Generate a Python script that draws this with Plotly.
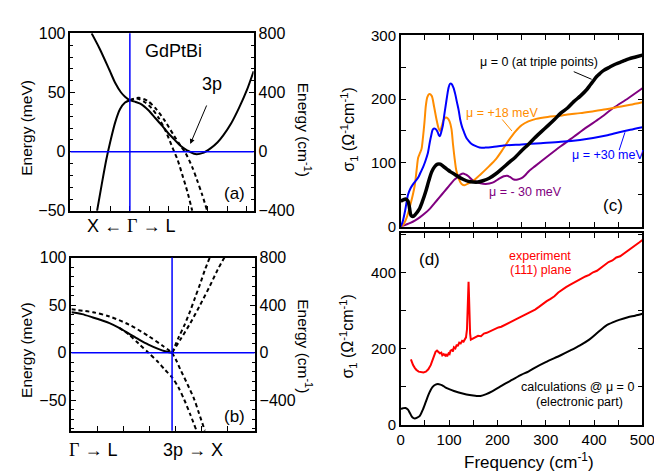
import plotly.graph_objects as go

W, H = 662, 474

# ---------------- Panel (a): band structure X <- Gamma -> L ----------------
a_solid1_k = [-0.309, -0.244, -0.165, -0.118, -0.071, -0.039, 0.0, 0.047, 0.094, 0.150, 0.205,
              0.260, 0.307, 0.362, 0.409, 0.465, 0.528, 0.591, 0.654, 0.709, 0.756, 0.819,
              0.882, 0.945, 1.0]
a_solid1_E = [100, 87, 69, 58, 50, 46.5, 43.5, 42, 40, 35, 28.5, 22, 16, 10, 5, 1, -2, -1, 3, 8,
              14, 24, 37, 52, 68]
a_solid2_k = [-0.265, -0.228, -0.191, -0.157, -0.118, -0.079, -0.039, 0.0]
a_solid2_E = [-50, -28, -7, 9, 25, 36, 41.5, 43.5]
a_dash1_k = [0.0, 0.055, 0.118, 0.173, 0.236, 0.291, 0.346, 0.386, 0.425, 0.465, 0.504]
a_dash1_E = [43.5, 45, 42, 37, 28, 17, 3, -7, -20, -34, -50]
a_dash2_k = [0.0, 0.071, 0.142, 0.213, 0.283, 0.354, 0.409, 0.449, 0.504, 0.543, 0.583, 0.622]
a_dash2_E = [43.5, 45.5, 43, 36, 26, 14, 5, -1, -13, -24, -36, -49]
a_gamma_k = 0.0

# ---------------- Panel (b): band structure Gamma -> L, 3p -> X ----------------
b_solid_k = [0.0, 0.106, 0.213, 0.300, 0.378, 0.474, 0.571, 0.668, 0.765, 0.862, 0.929, 1.0]
b_solid_E = [42.5, 40.5, 37, 34, 31, 26, 20, 14, 8.5, 4, 1.5, 0]
b_dash_up_k = [0.0, 0.213, 0.378, 0.571, 0.765, 0.910, 1.0]
b_dash_up_E = [45.5, 42.5, 38, 29.5, 17.5, 7, 0]
b_dash_low_k = [0.474, 0.571, 0.668, 0.765, 0.862, 0.929, 1.0, 1.065, 1.123, 1.181, 1.239]
b_dash_low_E = [26, 19, 9.5, 0, -10, -18, -26, -37, -50, -65, -81]
b_dash_down_k = [1.0, 1.046, 1.084, 1.152, 1.220, 1.268, 1.326]
b_dash_down_E = [0, -9, -18, -33, -49, -64, -82]
b_dash_steep_k = [1.0, 1.065, 1.123, 1.181, 1.229, 1.278, 1.326, 1.375]
b_dash_steep_E = [0, 16, 29, 44, 58, 72, 87, 100]
b_dash_flat_k = [1.0, 1.084, 1.181, 1.278, 1.375, 1.452, 1.520]
b_dash_flat_E = [0, 14, 31, 50, 70, 87, 100]
b_3p_k = 1.0
fermi_E = 0.0

# ---------------- Panel (c): calculated sigma_1 ----------------
c0_f = [0, 5, 10, 15, 18, 21, 25, 30, 38, 45, 52, 58, 64, 70, 76, 82, 89, 96, 103, 112, 120, 130,
        140, 150, 160, 170, 183, 197, 211, 223, 237, 250, 264, 277, 291, 304, 318, 331, 345, 358,
        372, 385, 392, 398, 405, 412, 420, 432, 445, 459, 472, 486, 500]
c0_s = [40, 42, 43.5, 40, 30, 18, 16, 19, 27, 40, 56, 72, 86, 94, 98, 98, 94, 90, 86, 82, 78, 74,
        71, 70, 70, 72, 76, 83, 92, 100, 109, 119, 129, 139, 149, 158, 168, 178, 186, 196, 205,
        215, 222, 228, 235, 240, 245, 250, 255, 259, 263, 266, 269]
c18_f = [0, 5, 12, 19, 25, 29, 33, 36, 40, 43, 46, 49, 52, 55, 59, 64, 69, 74, 78, 81, 85, 89,
         93, 97, 101, 105, 108, 111, 115, 120, 126, 132, 140, 150, 165, 183, 197, 211, 224, 237,
         250, 264, 280, 304, 331, 345, 371, 399, 425, 453, 475, 500]
c18_s = [0, 3, 14, 32, 50, 65, 90, 108, 116, 122, 140, 163, 190, 203, 208, 205, 188, 168, 155,
         150, 158, 168, 171, 170, 165, 153, 130, 110, 88, 75, 67, 65, 68, 72, 82, 95, 106, 121,
         136, 149, 159, 165, 169, 172, 174, 176, 178, 181, 184, 188, 191, 195]
c30_f = [0, 4, 9, 15, 20, 25, 30, 36, 41, 46, 51, 56, 60, 63, 66, 69, 72, 76, 79, 81, 84, 87,
         90, 93, 96, 99, 102, 105, 109, 113, 116, 120, 123, 127, 131, 136, 140, 146, 153, 163,
         175, 190, 210, 250, 290, 331, 371, 398, 425, 452, 475, 500]
c30_s = [0, 8, 25, 50, 60, 66, 71, 77, 85, 93, 103, 115, 132, 143, 152, 154, 153, 149, 143, 142,
         149, 158, 175, 190, 205, 218, 224, 224, 218, 207, 196, 182, 168, 156, 148, 139, 135, 130,
         127, 124, 124, 125, 127, 129, 131, 133, 136, 139, 143, 148, 152, 156]
cm30_f = [0, 10, 20, 30, 40, 50, 60, 70, 80, 90, 100, 110, 118, 124, 129, 134, 140, 147, 155, 165,
          176, 190, 203, 213, 220, 226, 234, 242, 250, 258, 265, 278, 300, 331, 358, 385, 412, 440,
          470, 500]
cm30_s = [0, 3, 6, 10, 15, 21, 28, 37, 46, 55, 64, 73, 78, 82, 83.5, 82, 79, 74, 71, 68, 67, 69,
          75, 79, 80, 78, 74, 74, 76, 81, 87, 95, 108, 126, 141, 156, 170, 186, 201, 217]

# ---------------- Panel (d): experiment vs calculation ----------------
dcalc_f = [0, 5, 10, 15, 19, 24, 29, 34, 39, 45, 52, 59, 66, 72, 79, 86, 93, 100, 110, 120, 136,
           150, 157, 165, 177, 190, 204, 217, 230, 250, 264, 280, 300, 331, 350, 371, 390, 405,
           418, 425, 440, 452, 470, 485, 500]
dcalc_s = [42, 44, 44.5, 40, 31, 20, 17, 19, 23, 38, 61, 84, 100, 106, 107, 104, 98, 94, 89, 85,
           80, 77, 76, 76, 81, 89, 99, 109, 118, 132, 140, 152, 165, 183, 195, 209, 224, 240, 254,
           261, 270, 276, 283, 287, 292]
dexp_f = [21, 23, 25.5, 29, 32, 37, 42, 47, 52, 57, 62, 66, 69, 72, 75, 78, 81, 84, 86, 89, 92,
          94, 96, 99, 101, 103, 106, 108, 110, 113, 116, 118, 121, 124, 127, 130, 133, 135, 137,
          138.5, 139.5, 140.3, 141, 142, 143.5, 145, 148, 151, 155, 160, 166, 172, 178, 184, 190,
          196, 202, 208, 215, 222, 230, 238, 246, 254, 262, 270, 278, 286, 294, 302, 310, 318,
          326, 334, 342, 350, 358, 366, 374, 382, 390, 398, 406, 414, 422, 430, 438, 446, 454,
          462, 470, 478, 486, 494, 500]
dexp_s = [172, 164, 157, 150, 145, 140, 138, 138, 140, 146, 157, 172, 184, 192, 195, 191, 188,
          190, 183, 186, 182, 186, 180, 188, 186, 195, 197, 193, 204, 201, 211, 207, 216, 214, 221,
          219, 226, 230, 250, 300, 360, 376, 350, 290, 240, 224, 226, 229, 231, 234, 233, 240, 242,
          246, 250, 253, 256, 258, 263, 266, 272, 277, 282, 287, 291, 298, 303, 310, 318, 325, 331,
          338, 348, 356, 362, 368, 374, 380, 384, 390, 394, 401, 405, 413, 420, 428, 432, 440, 443,
          450, 458, 465, 472, 480, 486]

FONT = "Liberation Sans, Arial, sans-serif"
BLUE = "#0000ff"
ORANGE = "#ff8c00"
PURPLE = "#800080"
RED = "#ff0000"


def dom_x(p0, p1):
    return [p0 / W, p1 / W]


def dom_y(top, bottom):
    return [1 - bottom / H, 1 - top / H]


fig = go.Figure()

solid = dict(color="black", width=2)
dashed = dict(color="black", width=2, dash="4px,3px")


def add(x, y, xa, ya, line, shape="spline"):
    fig.add_trace(go.Scatter(x=x, y=y, xaxis=xa, yaxis=ya, mode="lines",
                             line=dict(shape=shape, smoothing=0.8, **line),
                             hoverinfo="skip", showlegend=False))


# Panel (a)
add(a_solid1_k, a_solid1_E, "x", "y", solid)
add(a_solid2_k, a_solid2_E, "x", "y", solid)
add(a_dash1_k, a_dash1_E, "x", "y", dashed)
add(a_dash2_k, a_dash2_E, "x", "y", dashed)
add([-0.48, 1.0], [fermi_E * 8, fermi_E * 8], "x", "y2", dict(color="rgba(0,0,0,0)", width=0), "linear")

# Panel (b)
add(b_solid_k, b_solid_E, "x2", "y3", solid)
add(b_dash_up_k, b_dash_up_E, "x2", "y3", dashed)
add(b_dash_low_k, b_dash_low_E, "x2", "y3", dashed)
add(b_dash_down_k, b_dash_down_E, "x2", "y3", dashed)
add(b_dash_steep_k, b_dash_steep_E, "x2", "y3", dashed)
add(b_dash_flat_k, b_dash_flat_E, "x2", "y3", dashed)
add([0, 1.82], [fermi_E * 8, fermi_E * 8], "x2", "y4", dict(color="rgba(0,0,0,0)", width=0), "linear")

# Panel (c)
add(cm30_f, cm30_s, "x3", "y5", dict(color=PURPLE, width=2))
add(c18_f, c18_s, "x3", "y5", dict(color=ORANGE, width=2))
add(c30_f, c30_s, "x3", "y5", dict(color=BLUE, width=2))
add(c0_f, c0_s, "x3", "y5", dict(color="black", width=3.5))

# Panel (d)
add(dcalc_f, dcalc_s, "x4", "y6", dict(color="black", width=2))
add(dexp_f, dexp_s, "x4", "y6", dict(color=RED, width=2), "linear")

axis_common = dict(showline=True, linecolor="black", linewidth=1.5, mirror=True,
                   ticks="inside", tickcolor="black", tickwidth=1, ticklen=5,
                   showgrid=False, zeroline=False,
                   tickfont=dict(family=FONT, size=15, color="black"))
ab_font = dict(family=FONT, size=16, color="black")

fig.update_layout(
    width=W, height=H, margin=dict(l=0, r=0, t=0, b=0),
    paper_bgcolor="white", plot_bgcolor="white", showlegend=False,
    font=dict(family=FONT, color="black"),
    # panel (a)
    xaxis=dict(axis_common, domain=dom_x(60, 248), range=[-0.48, 1.0], anchor="y",
               showticklabels=False, tick0=0, dtick=0.1575),
    yaxis=dict(axis_common, domain=dom_y(17, 201.5), range=[-50, 100], anchor="x",
               dtick=50, tickfont=ab_font,
               minor=dict(dtick=10, ticks="inside", ticklen=3, tickcolor="black")),
    yaxis2=dict(axis_common, overlaying="y", side="right", anchor="x", range=[-400, 800],
                dtick=400, mirror=False, tickfont=ab_font,
                minor=dict(dtick=80, ticks="inside", ticklen=3, tickcolor="black")),
    # panel (b)
    xaxis2=dict(axis_common, domain=dom_x(61, 249), range=[0, 1.82], anchor="y3",
                showticklabels=False, tick0=0.261, dtick=0.2585),
    yaxis3=dict(axis_common, domain=dom_y(250, 430), range=[-82, 100], anchor="x2",
                dtick=50, tickfont=ab_font,
                minor=dict(dtick=10, ticks="inside", ticklen=3, tickcolor="black")),
    yaxis4=dict(axis_common, overlaying="y3", side="right", anchor="x2", range=[-656, 800],
                dtick=400, mirror=False, tickfont=ab_font,
                minor=dict(dtick=80, ticks="inside", ticklen=3, tickcolor="black")),
    # panel (c)
    xaxis3=dict(axis_common, domain=dom_x(399, 647), range=[0, 500], anchor="y5",
                showticklabels=False, dtick=100, mirror="allticks",
                minor=dict(dtick=50, ticks="inside", ticklen=5, tickcolor="black")),
    yaxis5=dict(axis_common, domain=dom_y(19, 218), range=[0, 300], anchor="x3",
                dtick=100, mirror="allticks",
                minor=dict(dtick=50, ticks="inside", ticklen=5, tickcolor="black")),
    # panel (d)
    xaxis4=dict(axis_common, domain=dom_x(399, 647), range=[0, 500], anchor="y6",
                dtick=100, mirror="allticks",
                minor=dict(dtick=50, ticks="inside", ticklen=5, tickcolor="black")),
    yaxis6=dict(axis_common, domain=dom_y(225, 424), range=[0, 503], anchor="x4",
                dtick=200, mirror="allticks",
                minor=dict(dtick=100, ticks="inside", ticklen=5, tickcolor="black")),
)

# Blue reference lines (Gamma, 3p, Fermi level)
shapes = [
    dict(type="line", xref="x", yref="y domain", x0=a_gamma_k, x1=a_gamma_k, y0=0, y1=1,
         line=dict(color=BLUE, width=1.5)),
    dict(type="line", xref="x domain", yref="y", x0=0, x1=1, y0=fermi_E, y1=fermi_E,
         line=dict(color=BLUE, width=1.5)),
    dict(type="line", xref="x2", yref="y3 domain", x0=b_3p_k, x1=b_3p_k, y0=0, y1=1,
         line=dict(color=BLUE, width=1.5)),
    dict(type="line", xref="x2 domain", yref="y3", x0=0, x1=1, y0=fermi_E, y1=fermi_E,
         line=dict(color=BLUE, width=1.5)),
    # leader lines in panel (c)
    dict(type="line", xref="x3", yref="y5", x0=358, y0=243, x1=395, y1=231,
         line=dict(color="black", width=1)),
    dict(type="line", xref="x3", yref="y5", x0=210, y0=168, x1=230, y1=150,
         line=dict(color=ORANGE, width=1)),
    dict(type="line", xref="x3", yref="y5", x0=452, y0=120, x1=464, y1=148,
         line=dict(color=BLUE, width=1)),
]
fig.update_layout(shapes=shapes)


def txt(s, px, py, size=14, color="black", angle=0, family=FONT):
    return dict(text=s, x=px / W, y=1 - py / H, xref="paper", yref="paper",
                xanchor="center", yanchor="middle", showarrow=False, textangle=angle,
                font=dict(family=family, size=size, color=color))


GAM = '<span style="font-family:Liberation Serif">Γ</span>'
ann = [
    # panel (a)
    txt("Energy (meV)", 15.5, 115, 15.5, angle=-90),
    txt("Energy (cm<sup>-1</sup>)", 300.5, 117, 15.5, angle=90),
    txt("GdPtBi", 166, 35, 18),
    txt("3p", 205, 70, 18),
    txt("(a)", 228, 183, 17),
    txt("X ← " + GAM + " → L", 122, 217, 18),
    # panel (b)
    txt("Energy (meV)", 15.5, 346, 15.5, angle=-90),
    txt("Energy (cm<sup>-1</sup>)", 300.5, 342, 15.5, angle=90),
    txt("(b)", 228, 415, 17),
    txt(GAM + " → L", 83, 450, 18),
    txt("3p → X", 186, 450, 18),
    # panel (c)
    txt("σ<sub>1</sub> (Ω<sup>-1</sup>cm<sup>-1</sup>)", 345, 117, 16, angle=-90),
    txt("μ = 0 (at triple points)", 541, 47, 12.5),
    txt("μ = +18 meV", 503, 100, 12.5, ORANGE),
    txt("μ = +30 meV", 612, 143, 12.5, BLUE),
    txt("μ = - 30 meV", 527, 182, 12.5, PURPLE),
    txt("(c)", 617, 196, 17),
    # panel (d)
    txt("σ<sub>1</sub> (Ω<sup>-1</sup>cm<sup>-1</sup>)", 345, 332, 16, angle=-90),
    txt("(d)", 428, 252, 17),
    txt("experiment", 542, 248, 12.5, RED),
    txt("(111) plane", 542, 263, 12.5, RED),
    txt("calculations @ μ = 0", 580, 385, 12.5),
    txt("(electronic part)", 582, 400, 12.5),
    txt("Frequency (cm<sup>-1</sup>)", 531, 462, 17),
    # arrow to the 3p point
    dict(x=0.488, y=6.5, xref="x", yref="y", ax=17, ay=-40, text="", showarrow=True,
         arrowhead=2, arrowsize=1, arrowwidth=1, arrowcolor="black"),
]
fig.update_layout(annotations=ann)

fig.write_html("out.html")
